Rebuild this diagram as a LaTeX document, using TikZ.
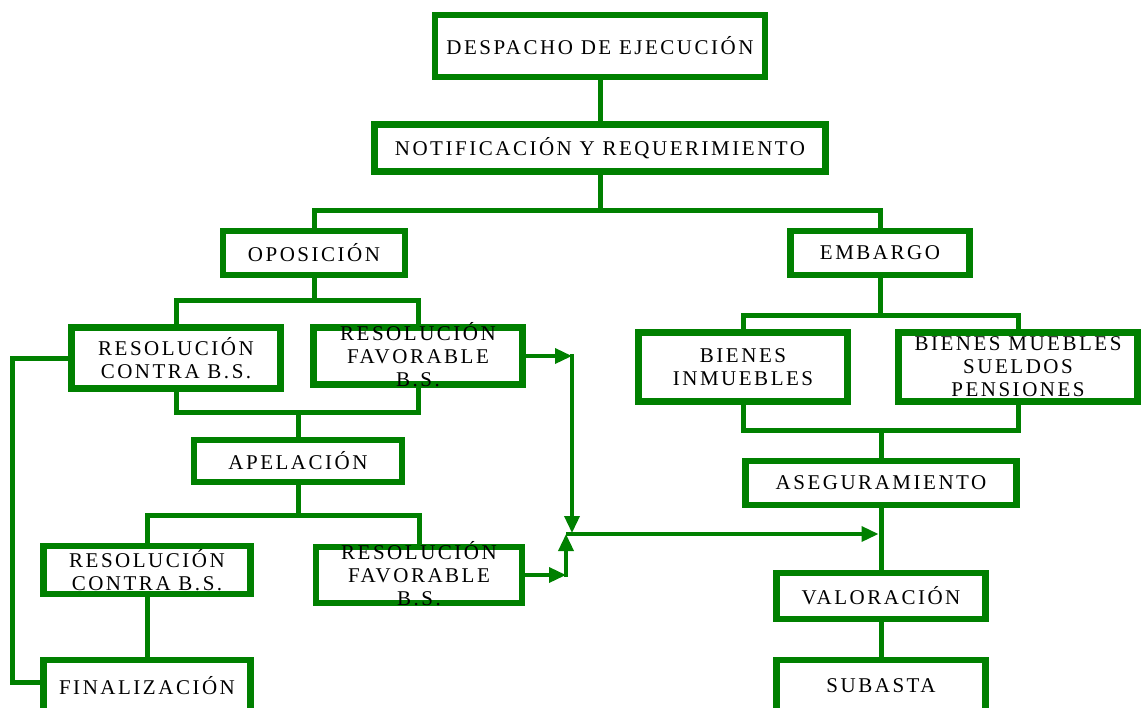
\documentclass[tikz,border=0pt]{standalone}
\usepackage{fontspec}
\newfontfamily\boxfont{Liberation Serif}[LetterSpace=12]
\usetikzlibrary{arrows.meta}
\definecolor{gr}{RGB}{0,128,0}
\newcommand\stk[1]{\raisebox{-7pt}[0pt][0pt]{\begin{tabular}{@{}c@{}}#1\end{tabular}}}
\begin{document}
\begin{tikzpicture}[x=1pt,y=-1pt,
  box/.style={draw=gr, line width=6.5pt, fill=white, inner sep=0pt, align=center,
    font=\boxfont\fontsize{21}{23}\selectfont, text=black},
  conn/.style={draw=gr, line width=5pt},
  arr/.style={draw=gr, line width=3.5pt, -{Triangle[length=17pt,width=15pt]}}]
\useasboundingbox (0,0) rectangle (1145,707);
\clip (0,0) rectangle (1145,707);
% nodes
\node[box, minimum width=330pt, minimum height=62pt] (desp) at (600,46) {DESPACHO DE EJECUCIÓN};
\node[box, minimum width=451pt, minimum height=47pt] (notif) at (600,148) {NOTIFICACIÓN Y REQUERIMIENTO};
\node[box, minimum width=182pt, minimum height=44pt] (opos) at (314,253) {OPOSICIÓN};
\node[box, minimum width=179pt, minimum height=44pt] (emb) at (880,253) {EMBARGO};
\node[box, minimum width=209pt, minimum height=61pt] (rc1) at (176,358) {RESOLUCIÓN\\CONTRA B.S.};
\node[box, minimum width=209pt, minimum height=57pt] (rf1) at (418,356) {\stk{RESOLUCIÓN\\FAVORABLE\\B.S.}};
\node[box, minimum width=208pt, minimum height=42pt] (apel) at (298,461) {APELACIÓN};
\node[box, minimum width=207pt, minimum height=48pt] (rc2) at (147,570) {RESOLUCIÓN\\CONTRA B.S.};
\node[box, minimum width=206pt, minimum height=56pt] (rf2) at (419,575) {\stk{RESOLUCIÓN\\FAVORABLE\\B.S.}};
\node[box, minimum width=207pt, minimum height=52pt] (fin) at (147,686) {FINALIZACIÓN};
\node[box, minimum width=209pt, minimum height=69pt] (bi) at (743,367) {BIENES\\INMUEBLES};
\node[box, minimum width=239pt, minimum height=69pt] (bm) at (1018,367) {BIENES MUEBLES\\SUELDOS\\PENSIONES};
\node[box, minimum width=271pt, minimum height=44pt] (aseg) at (881,483) {ASEGURAMIENTO};
\node[box, minimum width=209pt, minimum height=46pt] (val) at (881,596) {VALORACIÓN};
\node[box, minimum width=209pt, minimum height=52pt] (sub) at (881,686) {SUBASTA};
% junction coordinates
\coordinate (b1) at (600,210);
\coordinate (b2) at (314,300);
\coordinate (b3) at (298,412);
\coordinate (b4) at (298,515);
\coordinate (b5) at (880,315);
\coordinate (b6) at (881,430);
\coordinate (lp) at (12,500);
\coordinate (j1) at (572,356);
\coordinate (j2) at (572,533);
\coordinate (j3) at (566,534);
\coordinate (j4) at (566,575);
% connectors
\draw[conn] (desp) -- (notif);
\draw[conn] (notif) -- (b1);
\draw[conn] (opos.north) |- (b1) -| (emb.north);
\draw[conn] (opos) -- (b2);
\draw[conn] (rc1.north) |- (b2) -| (rf1.north);
\draw[conn] (rc1.south) |- (b3) -| (rf1.south);
\draw[conn] (b3) -- (apel.north);
\draw[conn] (apel) -- (b4);
\draw[conn] (rc2.north) |- (b4) -| (rf2.north);
\draw[conn] (rc2) -- (fin);
\draw[conn] (rc1.west) -| (lp) |- ([yshift=4pt]fin.west);
\draw[conn] (emb) -- (b5);
\draw[conn] (bi.north) |- (b5) -| (bm.north);
\draw[conn] (bi.south) |- (b6) -| (bm.south);
\draw[conn] (b6) -- (aseg.north);
\draw[conn] (aseg) -- (val);
\draw[conn] (val) -- (sub);
\draw[arr] (rf1.east) -- (j1);
\draw[arr, shorten <=-1.75pt] (j1) -- (j2);
\draw[arr] (rf2.east) -- (j4);
\draw[arr, shorten <=-1.75pt] (j4) -- (j3);
\draw[arr, shorten >=2.5pt] (j3) -- (aseg.south |- j3);
\end{tikzpicture}
\end{document}
